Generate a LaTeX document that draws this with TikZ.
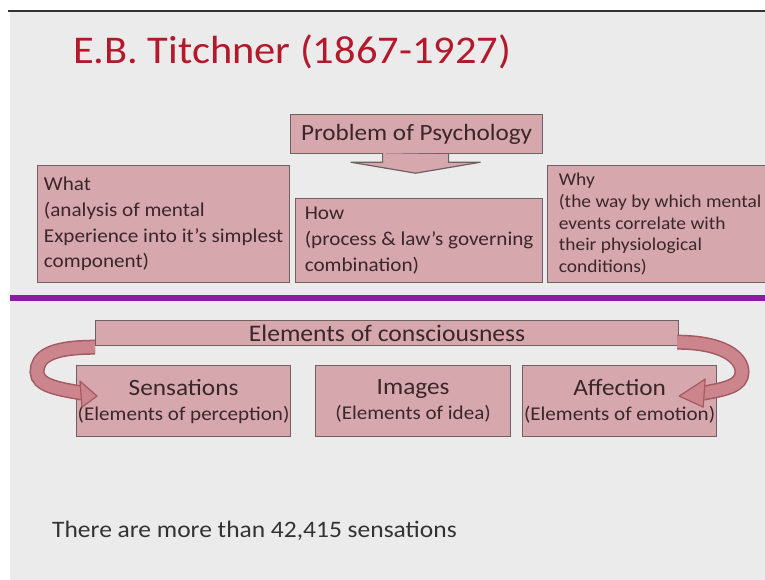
\documentclass[tikz,border=0pt]{standalone}
\usepackage{fontspec}
\setmainfont{Carlito}[FakeStretch=1.08]
\usetikzlibrary{calc}
\definecolor{slidebg}{HTML}{EBEBEB}
\definecolor{boxfill}{HTML}{D6A7AC}
\definecolor{boxline}{HTML}{6F6062}
\definecolor{boxtext}{HTML}{3A2729}
\definecolor{titlered}{HTML}{B3192B}
\definecolor{rulepurple}{HTML}{8A1CA3}
\definecolor{arrowfill}{HTML}{CC858C}
\definecolor{arrowline}{HTML}{A35A62}
\definecolor{notetext}{HTML}{333333}

\begin{document}
\begin{tikzpicture}[x=1pt,y=-1pt,
    box/.style={draw=boxline,fill=boxfill,line width=1.2pt,text=boxtext,
        align=left,anchor=north west,inner sep=0pt},
    callout/.style={draw=boxline,fill=boxfill,line width=1.2pt},
    band/.style={preaction={draw=arrowline,line width=15pt},draw=arrowfill,line width=12pt},
    bandhead/.style={draw=arrowline,fill=arrowfill,line width=1.2pt,line join=round}]
    \useasboundingbox (0,0) rectangle (765,580);
    \clip (0,0) rectangle (765,580);

    % Slide background
    \fill[white] (0,0) rectangle (765,580);
    \fill[slidebg] (10,12) rectangle (765,580);
    \draw[line width=2pt,black!80] (8,11) -- (765,11);

    % Title
    \node[anchor=base west,inner sep=0pt,text=titlered,font=\fontsize{39.3}{44}\selectfont] (title)
        at (73,64) {E.B. Titchner (1867-1927)};

    % Problem of psychology with its down arrow
    \node[box,align=center,minimum width=252pt,minimum height=39pt,
        font=\fontsize{23.3}{27}\selectfont] (problem) at (290,114) {Problem of Psychology};
    \draw[callout] ($(problem.south)+(-34,-1)$) -- ++(0,9) -- ++(-32,0)
        -- ($(problem.south)+(-1,19)$) -- ($(problem.south)+(64,8)$) -- ++(-32,0) -- ++(0,-8);

    % What / How / Why
    \node[box,minimum width=252pt,minimum height=117pt,font=\fontsize{19.6}{25.7}\selectfont] (what)
        at (37,165) {What\\(analysis of mental\\Experience into it's simplest\\component)};
    \node[box,minimum width=247pt,minimum height=84pt,font=\fontsize{19.6}{25.7}\selectfont] (how)
        at (295,198) {How\\(process \& law's governing\\combination)};
    \node[box,minimum width=225pt,minimum height=117pt,font=\fontsize{18}{21.8}\selectfont] (why)
        at (547,165) {Why\\(the way by which mental\\events correlate with\\their physiological\\conditions)};

    % Divider
    \draw[rulepurple,line width=6pt] (10,298) -- (765,298);

    % Elements of consciousness
    \node[box,align=center,minimum width=583pt,minimum height=25pt,
        font=\fontsize{23.7}{26}\selectfont] (elements) at (95,320) {Elements of consciousness};
    \node[box,align=center,minimum width=214pt,minimum height=71pt,font=\fontsize{19.5}{25}\selectfont]
        (sensations) at (76,365) {{\fontsize{23.4}{25}\selectfont Sensations}\\(Elements of perception)};
    \node[box,align=center,minimum width=195pt,minimum height=71pt,font=\fontsize{19.5}{25}\selectfont]
        (images) at (315,365) {{\fontsize{23.4}{25}\selectfont Images}\\(Elements of idea)};
    \node[box,align=center,minimum width=194pt,minimum height=71pt,font=\fontsize{19.5}{25}\selectfont]
        (affection) at (522,365) {{\fontsize{23.4}{25}\selectfont Affection}\\(Elements of emotion)};

    % Curved block arrows
    \coordinate (lhead) at ($(sensations.west)+(6,-8)$);
    \coordinate (rhead) at ($(affection.east)+(-14,-8)$);
    \draw[band] ($(elements.south west)+(0,1)$) .. controls +(-45,0) and +(0,-15) .. (37,372)
        .. controls +(0,14) and +(-22,-4) .. (lhead);
    \draw[bandhead] ($(lhead)+(-2,-12)$) -- ($(lhead)+(15,3)$) -- ($(lhead)+(0,14)$) -- cycle;
    \draw[band] ($(elements.south east)+(-2,-4)$) .. controls +(45,0) and +(0,-15) .. (742,372)
        .. controls +(0,14) and +(22,-4) .. (rhead);
    \draw[bandhead] ($(rhead)+(2,-14)$) -- ($(rhead)+(-24,3)$) -- ($(rhead)+(0,14)$) -- cycle;

    % Note
    \node[anchor=base west,inner sep=0pt,text=notetext,font=\fontsize{23.6}{27}\selectfont] (note)
        at (52,537) {There are more than 42,415 sensations};
\end{tikzpicture}
\end{document}
